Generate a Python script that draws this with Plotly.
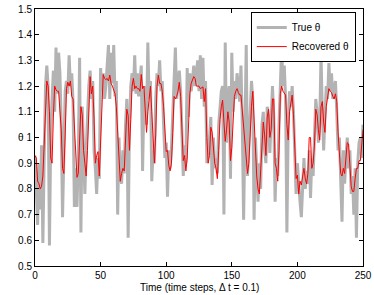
import plotly.graph_objects as go

# Recovered theta (red), t = 0..250
recovered = [0.93,0.92,0.83,0.82,0.80,0.81,0.85,0.98,1.09,1.22,1.20,1.10,0.92,0.90,1.08,1.20,1.185,1.18,1.18,1.12,
1.03,0.88,0.86,1.01,1.19,1.215,1.20,1.22,1.16,1.15,1.05,0.93,0.845,0.86,1.01,1.12,1.09,0.95,0.90,0.85,
0.95,1.15,1.237,1.17,1.20,1.075,0.90,0.93,0.945,0.85,0.97,1.10,1.245,1.23,1.225,1.23,1.22,1.243,1.21,1.20,
1.18,1.17,1.12,1.02,0.92,0.83,0.86,0.88,0.87,1.01,1.11,1.085,0.95,1.07,1.20,1.23,1.19,1.20,1.19,1.19,
1.18,1.245,1.19,1.20,1.10,1.02,1.10,1.16,1.20,1.10,0.97,0.90,1.01,1.20,1.243,1.21,1.21,1.18,1.12,1.00,
0.945,0.95,0.89,0.87,0.90,1.02,1.16,1.15,1.16,1.18,1.215,1.16,1.00,0.91,0.93,0.87,0.92,1.06,1.17,1.21,
1.225,1.237,1.23,1.20,1.20,1.20,1.19,1.195,1.197,1.14,1.19,1.00,0.90,0.93,1.04,1.02,0.94,0.90,0.88,0.84,
0.95,1.07,1.12,1.145,1.06,0.985,1.03,1.10,1.06,0.91,0.96,1.08,1.16,1.18,1.19,1.175,1.165,1.165,1.10,1.03,
0.96,0.906,0.86,0.90,1.03,1.12,1.18,1.05,0.93,0.85,0.80,0.78,0.87,0.98,1.06,1.01,0.93,1.08,1.11,1.00,
1.03,1.15,1.15,0.90,0.88,0.83,0.95,1.17,1.20,1.18,1.17,1.165,1.05,0.99,1.10,1.14,1.165,1.09,0.92,0.84,
0.854,0.78,0.83,0.815,0.85,0.88,0.84,0.82,0.86,1.00,1.00,0.88,0.90,0.97,1.11,1.09,1.03,0.99,1.12,1.14,
1.06,1.02,1.12,1.15,1.19,1.18,1.175,1.16,1.15,1.17,1.14,1.02,0.93,0.86,0.85,0.88,0.86,0.92,0.98,0.975,
0.87,0.81,0.79,0.79,0.84,0.88,0.88,0.91,0.91,0.96,1.03]

# True theta (gray), t = 0..250
true_theta = [0.93,0.75,0.66,0.90,0.72,0.97,0.59,0.92,1.20,1.28,1.20,0.58,1.00,1.15,1.26,1.10,1.35,1.17,1.33,1.25,
1.05,0.69,0.95,1.18,1.22,1.17,1.32,1.20,1.25,1.14,0.73,0.88,0.73,0.92,1.31,0.63,1.12,0.95,0.78,0.95,
1.12,1.20,1.26,1.15,1.22,0.95,0.88,0.78,0.92,0.84,1.27,1.18,1.25,1.15,1.20,1.30,1.36,1.15,1.33,1.21,
1.36,1.16,1.22,0.70,1.00,0.85,0.82,0.95,0.86,1.05,1.15,0.61,1.05,1.20,1.25,1.18,1.32,1.17,1.25,1.16,
1.22,1.28,0.87,1.15,1.20,1.05,1.37,1.15,1.22,0.83,0.95,0.90,1.15,1.25,1.20,1.30,1.18,1.22,1.05,0.92,
0.98,0.77,0.95,0.88,0.96,1.12,1.20,1.35,1.15,1.22,1.26,1.18,1.00,0.85,0.97,0.90,1.27,1.08,1.25,1.18,
1.22,1.28,1.20,1.25,1.30,1.18,1.32,1.15,1.31,1.12,1.22,0.90,0.95,1.00,1.08,0.815,1.00,0.88,0.92,0.86,
1.05,1.12,1.18,1.20,0.70,1.37,0.98,1.15,1.20,0.84,1.33,1.10,1.22,1.15,1.25,1.20,1.14,1.28,1.05,0.68,
1.10,1.36,0.85,1.00,1.10,1.22,1.15,0.68,1.00,0.85,0.75,0.90,0.80,1.05,1.10,0.95,0.90,1.12,1.08,0.94,
1.10,1.20,1.08,0.75,0.92,0.85,1.05,1.22,1.35,1.20,1.28,1.15,0.63,1.05,1.18,1.12,1.20,1.10,0.92,0.78,
0.90,0.80,0.75,0.69,0.85,0.92,0.80,0.87,0.82,0.95,0.765,0.92,0.85,1.05,1.15,1.10,0.98,1.05,1.32,1.10,
0.95,1.08,1.20,1.15,1.29,1.18,1.25,1.15,1.18,1.22,1.10,0.95,1.00,0.85,0.672,0.95,0.82,0.92,1.00,0.88,
0.95,0.78,0.85,0.70,0.88,0.61,0.90,0.98,1.00,0.92,1.05]

time_steps = list(range(len(recovered)))

x_ticks = [0, 50, 100, 150, 200, 250]
y_ticks = [0.5, 0.6, 0.7, 0.8, 0.9, 1.0, 1.1, 1.2, 1.3, 1.4, 1.5]
y_tick_labels = ["0.5", "0.6", "0.7", "0.8", "0.9", "1", "1.1", "1.2", "1.3", "1.4", "1.5"]

FONT = "Liberation Sans, Arial, Helvetica, sans-serif"
W, H = 374, 295
ML, MR, MT, MB = 35, 11, 9, 29

fig = go.Figure()
fig.add_trace(go.Scatter(x=time_steps, y=true_theta, mode="lines", name="True θ",
                         line=dict(color="#b3b3b3", width=3)))
fig.add_trace(go.Scatter(x=time_steps, y=recovered, mode="lines", name="Recovered θ",
                         line=dict(color="#ff0000", width=1)))

axis_common = dict(showline=True, linecolor="black", linewidth=1, mirror="ticks",
                   ticks="inside", ticklen=4, tickcolor="black", showgrid=False, zeroline=False,
                   automargin=False,
                   tickfont=dict(family=FONT, size=10, color="black"))

plot_w = W - ML - MR
plot_h = H - MT - MB

fig.update_layout(
    width=W, height=H,
    margin=dict(l=ML, r=MR, t=MT, b=MB, autoexpand=False),
    paper_bgcolor="white", plot_bgcolor="white",
    font=dict(family=FONT, size=10, color="black"),
    showlegend=True,
    legend=dict(x=0.978, y=0.988, xanchor="right", yanchor="top",
                bordercolor="black", borderwidth=1, bgcolor="white",
                font=dict(family=FONT, size=10, color="black"),
                tracegroupgap=0, itemwidth=30),
    xaxis=dict(range=[0, 250], tickvals=x_ticks, **axis_common),
    yaxis=dict(range=[0.5, 1.5], tickvals=y_ticks, ticktext=y_tick_labels, **axis_common),
    annotations=[
        dict(text="Time (time steps, Δ t = 0.1)", xref="paper", yref="paper",
             x=(199 - ML) / plot_w, y=(H - MB - 287) / plot_h,
             xanchor="center", yanchor="middle",
             showarrow=False, font=dict(family=FONT, size=10, color="black")),
        dict(text="θ", xref="paper", yref="paper",
             x=(21 - ML) / plot_w, y=(H - MB - 137) / plot_h,
             xanchor="center", yanchor="middle",
             showarrow=False, font=dict(family=FONT, size=10, color="black")),
    ],
)

fig.write_html("out.html", config={"displayModeBar": False},
               post_script="document.body.style.margin='0px';")
